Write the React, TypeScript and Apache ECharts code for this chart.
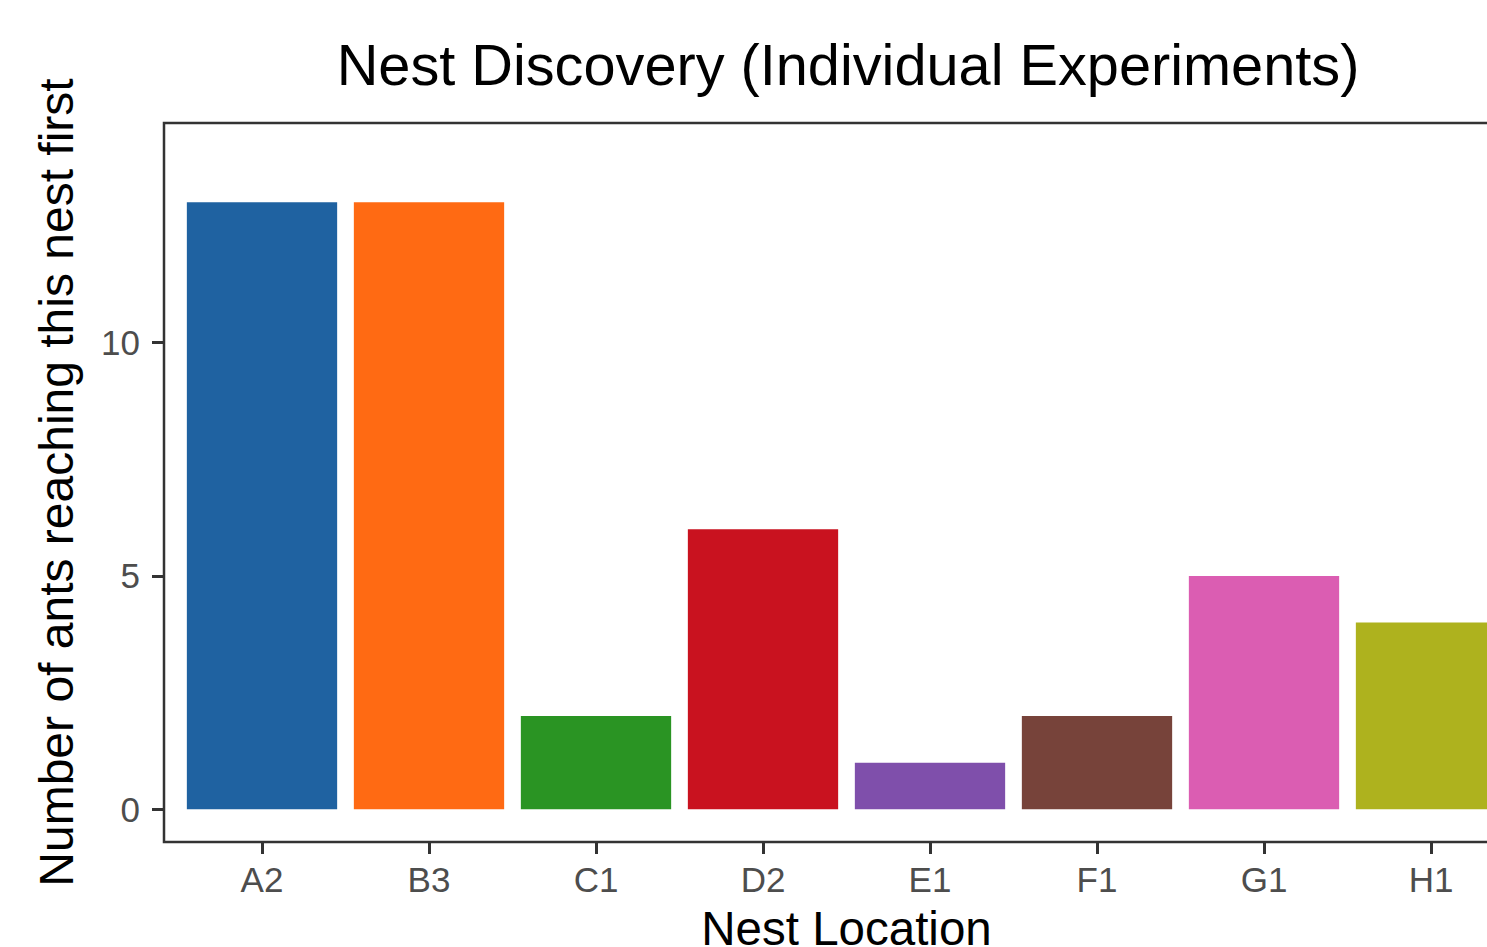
import React, { useEffect, useRef } from "react";
import * as echarts from "echarts";

const categories = ["A2", "B3", "C1", "D2", "E1", "F1", "G1", "H1"];
const counts = [13, 13, 2, 6, 1, 2, 5, 4];
const barColors = ["#1F62A1", "#FF6A13", "#2A9423", "#C9121F", "#7F4FAB", "#77433A", "#DB5DB2", "#AEB21E"];
const yTicks = [0, 5, 10];

export default function App() {
  const ref = useRef<HTMLDivElement>(null);
  useEffect(() => {
    document.body.style.margin = "0";
    const chart = echarts.init(ref.current!, null, { renderer: "svg" });
    const font = "'Liberation Sans', Arial, Helvetica, sans-serif";
    chart.setOption({
      animation: false,
      backgroundColor: "#ffffff",
      title: {
        text: "Nest Discovery (Individual Experiments)",
        left: 843,
        top: 31,
        textAlign: "center",
        textStyle: { fontFamily: font, fontSize: 57.7, fontWeight: "normal", color: "#000000" },
      },
      grid: { left: 178.5, top: 123, width: 1336, height: 719, containLabel: false, outerBoundsMode: "none" },
      xAxis: {
        type: "category",
        data: categories,
        axisLine: { show: false, onZero: false },
        axisTick: { show: true, alignWithLabel: true, length: 12, lineStyle: { color: "#333333", width: 3 } },
        axisLabel: { color: "#4D4D4D", fontSize: 35, fontFamily: font, margin: 20 },
        name: "Nest Location",
        nameLocation: "middle",
        nameGap: 62,
        nameTextStyle: { fontFamily: font, fontSize: 47.5, color: "#000000" },
      },
      yAxis: {
        type: "value",
        min: -0.7,
        max: 14.7,
        offset: 14.5,
        axisLine: { show: false, onZero: false },
        splitLine: { show: false },
        axisTick: { show: true, length: 12, customValues: yTicks, lineStyle: { color: "#333333", width: 3 } },
        axisLabel: { color: "#4D4D4D", fontSize: 35, fontFamily: font, margin: 24, customValues: yTicks },
        name: "Number of ants reaching this nest first",
        nameLocation: "middle",
        nameGap: 84,
        nameTextStyle: { fontFamily: font, fontSize: 48, color: "#000000" },
      },
      graphic: [
        {
          type: "rect",
          shape: { x: 164, y: 123, width: 1366, height: 719 },
          style: { fill: "none", stroke: "#333333", lineWidth: 2.5 },
          z: 10,
        },
      ],
      series: [
        {
          type: "bar",
          barWidth: "90%",
          data: counts.map((v, i) => ({ value: v, itemStyle: { color: barColors[i] } })),
        },
      ],
    });
    return () => chart.dispose();
  }, []);
  return <div ref={ref} style={{ width: 1487, height: 947 }} />;
}
